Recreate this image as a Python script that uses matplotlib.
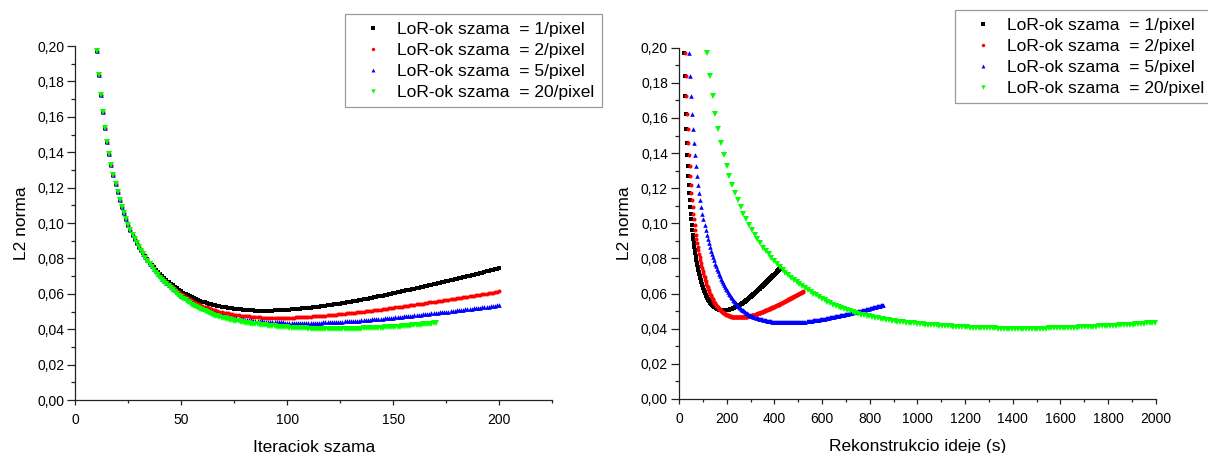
import numpy as np
import matplotlib
matplotlib.use("Agg")
import matplotlib.pyplot as plt
from matplotlib.ticker import MultipleLocator, FuncFormatter

plt.rcParams['font.family'] = ['Liberation Sans', 'DejaVu Sans']

# L2 norm of the reconstructed image after each iteration (first iteration = 10)
first_iter = 10

l2_lor1 = [
    0.1970, 0.1838, 0.1724, 0.1625, 0.1537, 0.1459, 0.1390, 0.1328, 0.1271, 0.1220,
    0.1173, 0.1131, 0.1091, 0.1055, 0.1022, 0.0991, 0.0962, 0.0935, 0.0910, 0.0886,
    0.0866, 0.0848, 0.0830, 0.0812, 0.0794, 0.0776, 0.0763, 0.0750, 0.0736, 0.0723,
    0.0710, 0.0699, 0.0689, 0.0678, 0.0668, 0.0657, 0.0648, 0.0640, 0.0631, 0.0623,
    0.0614, 0.0607, 0.0601, 0.0594, 0.0588, 0.0581, 0.0576, 0.0571, 0.0566, 0.0561,
    0.0556, 0.0552, 0.0549, 0.0545, 0.0542, 0.0538, 0.0535, 0.0533, 0.0530, 0.0528,
    0.0525, 0.0523, 0.0521, 0.0520, 0.0518, 0.0516, 0.0515, 0.0513, 0.0512, 0.0510,
    0.0509, 0.0508, 0.0507, 0.0507, 0.0506, 0.0505, 0.0505, 0.0505, 0.0504, 0.0504,
    0.0504, 0.0504, 0.0505, 0.0505, 0.0506, 0.0506, 0.0507, 0.0508, 0.0508, 0.0509,
    0.0510, 0.0511, 0.0512, 0.0513, 0.0514, 0.0515, 0.0516, 0.0517, 0.0519, 0.0520,
    0.0521, 0.0522, 0.0524, 0.0525, 0.0527, 0.0528, 0.0530, 0.0531, 0.0533, 0.0534,
    0.0536, 0.0538, 0.0540, 0.0541, 0.0543, 0.0545, 0.0547, 0.0549, 0.0551, 0.0553,
    0.0555, 0.0557, 0.0559, 0.0562, 0.0564, 0.0566, 0.0568, 0.0571, 0.0573, 0.0576,
    0.0578, 0.0580, 0.0583, 0.0585, 0.0588, 0.0590, 0.0593, 0.0595, 0.0598, 0.0600,
    0.0603, 0.0606, 0.0608, 0.0611, 0.0613, 0.0616, 0.0619, 0.0621, 0.0624, 0.0626,
    0.0629, 0.0632, 0.0635, 0.0637, 0.0640, 0.0643, 0.0646, 0.0649, 0.0651, 0.0654,
    0.0657, 0.0660, 0.0663, 0.0665, 0.0668, 0.0671, 0.0674, 0.0677, 0.0679, 0.0682,
    0.0685, 0.0688, 0.0691, 0.0694, 0.0697, 0.0700, 0.0703, 0.0706, 0.0708, 0.0711,
    0.0714, 0.0717, 0.0720, 0.0723, 0.0726, 0.0729, 0.0732, 0.0735, 0.0738, 0.0741,
    0.0744,
]

l2_lor2 = [
    0.1970, 0.1838, 0.1724, 0.1625, 0.1537, 0.1459, 0.1390, 0.1328, 0.1271, 0.1220,
    0.1173, 0.1131, 0.1091, 0.1055, 0.1022, 0.0991, 0.0962, 0.0935, 0.0910, 0.0886,
    0.0865, 0.0847, 0.0828, 0.0810, 0.0791, 0.0773, 0.0759, 0.0745, 0.0731, 0.0717,
    0.0703, 0.0692, 0.0680, 0.0669, 0.0657, 0.0646, 0.0637, 0.0627, 0.0618, 0.0608,
    0.0599, 0.0591, 0.0584, 0.0576, 0.0569, 0.0561, 0.0555, 0.0549, 0.0544, 0.0538,
    0.0532, 0.0528, 0.0523, 0.0519, 0.0514, 0.0510, 0.0507, 0.0504, 0.0500, 0.0497,
    0.0494, 0.0492, 0.0489, 0.0487, 0.0484, 0.0482, 0.0480, 0.0479, 0.0477, 0.0476,
    0.0474, 0.0473, 0.0472, 0.0470, 0.0469, 0.0468, 0.0467, 0.0467, 0.0466, 0.0466,
    0.0465, 0.0465, 0.0465, 0.0464, 0.0464, 0.0464, 0.0464, 0.0464, 0.0465, 0.0465,
    0.0465, 0.0465, 0.0466, 0.0466, 0.0467, 0.0467, 0.0468, 0.0468, 0.0469, 0.0469,
    0.0470, 0.0471, 0.0472, 0.0472, 0.0473, 0.0474, 0.0475, 0.0476, 0.0477, 0.0478,
    0.0479, 0.0480, 0.0481, 0.0483, 0.0484, 0.0485, 0.0486, 0.0487, 0.0489, 0.0490,
    0.0491, 0.0492, 0.0494, 0.0495, 0.0497, 0.0498, 0.0499, 0.0501, 0.0502, 0.0504,
    0.0505, 0.0507, 0.0508, 0.0510, 0.0511, 0.0513, 0.0515, 0.0516, 0.0518, 0.0519,
    0.0521, 0.0523, 0.0524, 0.0526, 0.0527, 0.0529, 0.0531, 0.0533, 0.0534, 0.0536,
    0.0538, 0.0540, 0.0542, 0.0543, 0.0545, 0.0547, 0.0549, 0.0551, 0.0552, 0.0554,
    0.0556, 0.0558, 0.0560, 0.0561, 0.0563, 0.0565, 0.0567, 0.0569, 0.0571, 0.0573,
    0.0575, 0.0577, 0.0579, 0.0580, 0.0582, 0.0584, 0.0586, 0.0588, 0.0590, 0.0592,
    0.0594, 0.0596, 0.0598, 0.0599, 0.0601, 0.0603, 0.0605, 0.0607, 0.0609, 0.0611,
    0.0613,
]

l2_lor5 = [
    0.1970, 0.1838, 0.1724, 0.1625, 0.1537, 0.1459, 0.1390, 0.1328, 0.1271, 0.1220,
    0.1173, 0.1131, 0.1091, 0.1055, 0.1022, 0.0991, 0.0962, 0.0935, 0.0910, 0.0886,
    0.0864, 0.0845, 0.0827, 0.0808, 0.0790, 0.0771, 0.0756, 0.0742, 0.0727, 0.0713,
    0.0698, 0.0686, 0.0674, 0.0663, 0.0651, 0.0639, 0.0629, 0.0619, 0.0610, 0.0600,
    0.0590, 0.0582, 0.0574, 0.0566, 0.0558, 0.0550, 0.0544, 0.0537, 0.0531, 0.0524,
    0.0518, 0.0513, 0.0508, 0.0504, 0.0499, 0.0494, 0.0490, 0.0487, 0.0483, 0.0480,
    0.0476, 0.0473, 0.0471, 0.0468, 0.0466, 0.0463, 0.0461, 0.0459, 0.0458, 0.0456,
    0.0454, 0.0453, 0.0451, 0.0450, 0.0448, 0.0447, 0.0446, 0.0445, 0.0444, 0.0443,
    0.0442, 0.0441, 0.0441, 0.0440, 0.0440, 0.0439, 0.0439, 0.0438, 0.0438, 0.0437,
    0.0437, 0.0437, 0.0437, 0.0436, 0.0436, 0.0436, 0.0436, 0.0436, 0.0436, 0.0436,
    0.0436, 0.0436, 0.0436, 0.0437, 0.0437, 0.0437, 0.0437, 0.0438, 0.0438, 0.0439,
    0.0439, 0.0440, 0.0440, 0.0441, 0.0441, 0.0442, 0.0443, 0.0444, 0.0444, 0.0445,
    0.0446, 0.0447, 0.0448, 0.0448, 0.0449, 0.0450, 0.0451, 0.0452, 0.0453, 0.0454,
    0.0455, 0.0456, 0.0457, 0.0458, 0.0459, 0.0460, 0.0461, 0.0462, 0.0464, 0.0465,
    0.0466, 0.0467, 0.0468, 0.0470, 0.0471, 0.0472, 0.0473, 0.0474, 0.0476, 0.0477,
    0.0478, 0.0479, 0.0481, 0.0482, 0.0484, 0.0485, 0.0486, 0.0488, 0.0489, 0.0491,
    0.0492, 0.0493, 0.0495, 0.0496, 0.0498, 0.0499, 0.0500, 0.0502, 0.0503, 0.0505,
    0.0506, 0.0507, 0.0509, 0.0510, 0.0512, 0.0513, 0.0515, 0.0516, 0.0518, 0.0519,
    0.0521, 0.0522, 0.0524, 0.0525, 0.0527, 0.0528, 0.0530, 0.0531, 0.0533, 0.0534,
    0.0536,
]

l2_lor20 = [
    0.1970, 0.1838, 0.1724, 0.1625, 0.1537, 0.1459, 0.1390, 0.1328, 0.1271, 0.1220,
    0.1173, 0.1131, 0.1091, 0.1055, 0.1022, 0.0991, 0.0962, 0.0935, 0.0910, 0.0886,
    0.0862, 0.0843, 0.0824, 0.0804, 0.0785, 0.0766, 0.0751, 0.0736, 0.0720, 0.0705,
    0.0690, 0.0678, 0.0666, 0.0654, 0.0642, 0.0630, 0.0620, 0.0610, 0.0600, 0.0590,
    0.0580, 0.0572, 0.0563, 0.0555, 0.0546, 0.0538, 0.0532, 0.0525, 0.0519, 0.0512,
    0.0506, 0.0501, 0.0496, 0.0491, 0.0486, 0.0481, 0.0477, 0.0473, 0.0470, 0.0466,
    0.0462, 0.0459, 0.0456, 0.0454, 0.0451, 0.0448, 0.0446, 0.0444, 0.0441, 0.0439,
    0.0437, 0.0435, 0.0433, 0.0432, 0.0430, 0.0428, 0.0427, 0.0425, 0.0424, 0.0422,
    0.0421, 0.0420, 0.0419, 0.0417, 0.0416, 0.0415, 0.0414, 0.0413, 0.0412, 0.0411,
    0.0410, 0.0409, 0.0408, 0.0408, 0.0407, 0.0406, 0.0405, 0.0405, 0.0404, 0.0404,
    0.0403, 0.0403, 0.0402, 0.0402, 0.0401, 0.0401, 0.0401, 0.0400, 0.0400, 0.0400,
    0.0400, 0.0400, 0.0400, 0.0400, 0.0400, 0.0400, 0.0400, 0.0400, 0.0401, 0.0401,
    0.0401, 0.0401, 0.0402, 0.0402, 0.0403, 0.0403, 0.0404, 0.0404, 0.0405, 0.0405,
    0.0406, 0.0407, 0.0407, 0.0408, 0.0408, 0.0409, 0.0410, 0.0411, 0.0411, 0.0412,
    0.0413, 0.0414, 0.0415, 0.0415, 0.0416, 0.0417, 0.0418, 0.0419, 0.0420, 0.0421,
    0.0422, 0.0423, 0.0424, 0.0426, 0.0427, 0.0428, 0.0429, 0.0430, 0.0432, 0.0433,
    0.0434,
]

# reconstruction time of one iteration, seconds
sec_per_iter = [2.12, 2.61, 4.28, 11.75]

series_labels = [
    "LoR-ok szama  = 1/pixel",
    "LoR-ok szama  = 2/pixel",
    "LoR-ok szama  = 5/pixel",
    "LoR-ok szama  = 20/pixel",
]
series_values = [l2_lor1, l2_lor2, l2_lor5, l2_lor20]

colors = ["#000000", "#ff0000", "#0000ff", "#00ff00"]
markers = ["s", "o", "^", "v"]
msizes = [2.6, 2.9, 3.3, 3.7]

comma_fmt = FuncFormatter(lambda v, p: f"{v:.2f}".replace(".", ","))

fig = plt.figure(figsize=(12.08, 4.53), dpi=100)
W, H = 1208.0, 453.0
ax1 = fig.add_axes([75.3 / W, 53 / H, 477 / W, 354 / H])
ax2 = fig.add_axes([679 / W, 54 / H, 476.7 / W, 351.3 / H])

handles = []
for vals, lab, c, m, s, spi in zip(series_values, series_labels, colors,
                                    markers, msizes, sec_per_iter):
    it = np.arange(first_iter, first_iter + len(vals))
    y = np.array(vals)
    h, = ax1.plot(it, y, linestyle="none", marker=m, ms=s, color=c,
                  mec=c, mew=0, clip_on=False, label=lab)
    ax2.plot(it * spi, y, linestyle="none", marker=m, ms=s, color=c,
             mec=c, mew=0, clip_on=False, label=lab)
    handles.append(h)

ax1.set_xlim(0, 225)
ax1.xaxis.set_major_locator(MultipleLocator(50))
ax1.xaxis.set_minor_locator(MultipleLocator(25))
ax2.set_xlim(0, 2000)
ax2.xaxis.set_major_locator(MultipleLocator(200))
ax2.xaxis.set_minor_locator(MultipleLocator(100))

for ax in (ax1, ax2):
    ax.set_ylim(0, 0.2)
    ax.yaxis.set_major_locator(MultipleLocator(0.02))
    ax.yaxis.set_minor_locator(MultipleLocator(0.01))
    ax.yaxis.set_major_formatter(comma_fmt)
    for side in ("top", "right"):
        ax.spines[side].set_visible(False)
    for side in ("left", "bottom"):
        ax.spines[side].set_linewidth(0.9)
        ax.spines[side].set_color("#222222")
    ax.tick_params(axis="both", which="both", direction="out", width=0.9,
                   color="#222222", labelsize=10)
    ax.tick_params(axis="y", which="major", length=5.5, pad=2.5)
    ax.tick_params(axis="y", which="minor", length=3.0)
    ax.tick_params(axis="x", which="major", length=3.5, pad=6)
    ax.tick_params(axis="x", which="minor", length=2.0)
    ax.set_ylabel("L2 norma", fontsize=12.5, labelpad=6)

ax1.set_xlabel("Iteraciok szama", fontsize=12.5, labelpad=9)
ax2.set_xlabel("Rekonstrukcio ideje (s)", fontsize=12.5, labelpad=9)

for ax, anchor in ((ax1, (345 / W, 1 - 14 / H)), (ax2, (955 / W, 1 - 10 / H))):
    leg = ax.legend(handles=handles, loc="upper left", bbox_to_anchor=anchor,
                    bbox_transform=fig.transFigure, fontsize=12.5,
                    frameon=True, fancybox=False, framealpha=1,
                    edgecolor="#9a9a9a", borderaxespad=0, borderpad=0.45,
                    labelspacing=0.33, handlelength=2.35, handletextpad=0.21,
                    numpoints=1, markerscale=0.85)
    leg.get_frame().set_linewidth(0.9)

fig.savefig("out.png", dpi=100)
